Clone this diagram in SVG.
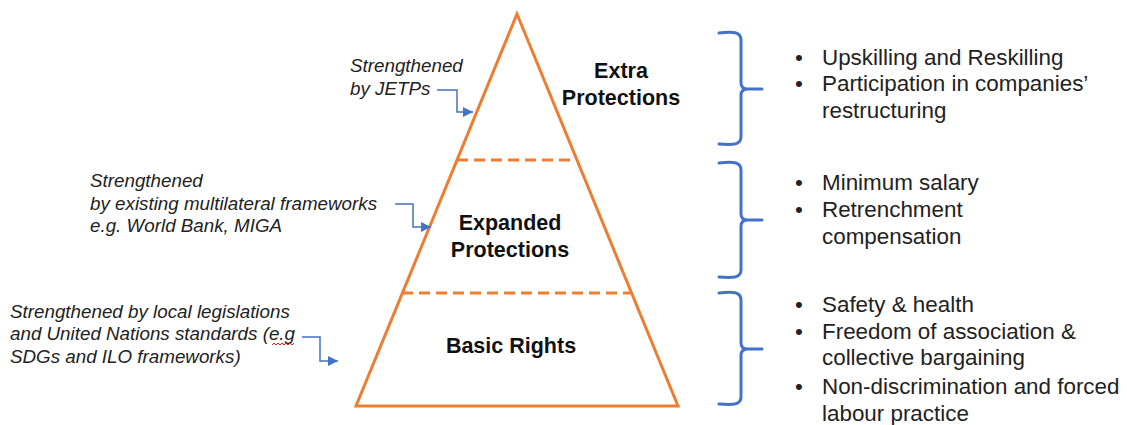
<svg xmlns="http://www.w3.org/2000/svg" width="1127" height="425" viewBox="0 0 1127 425">
  <style>
    .tier { fill: none; stroke: #ED7D31; stroke-width: 3; }
    .split { stroke: #ED7D31; stroke-width: 3; stroke-dasharray: 11 6; }
    .brace { fill: none; stroke: #4472C4; stroke-width: 3; stroke-linecap: round; stroke-linejoin: round; }
    .link { fill: none; stroke: #4472C4; stroke-width: 1.5; }
    .level { font-family: "Liberation Sans", Arial, sans-serif; font-weight: bold; font-size: 21.5px; fill: #111; text-anchor: middle; }
    .note { font-family: "Liberation Sans", Arial, sans-serif; font-style: italic; font-size: 18.8px; fill: #222; }
    .item { font-family: "Liberation Sans", Arial, sans-serif; font-size: 22.4px; fill: #222; }
  </style>
  <defs>
    <marker id="arrow" viewBox="0 0 10 10" refX="10" refY="5" markerWidth="7" markerHeight="7" markerUnits="strokeWidth" orient="auto">
      <path d="M0,0 L10,5 L0,10 z" fill="#4472C4"/>
    </marker>
  </defs>
  <rect width="1127" height="425" fill="#ffffff"/>

  <!-- pyramid -->
  <g id="pyramid">
    <polygon class="tier" points="517,14 678,406 356,406"/>
    <line class="split" x1="457" y1="160" x2="577" y2="160"/>
    <line class="split" x1="402" y1="293" x2="632" y2="293"/>
  </g>

  <g id="tier-extra">
    <text class="level" x="621" y="78">Extra</text>
    <text class="level" x="621" y="105">Protections</text>
  </g>
  <g id="tier-expanded">
    <text class="level" x="510" y="230">Expanded</text>
    <text class="level" x="510" y="257">Protections</text>
  </g>
  <g id="tier-basic">
    <text class="level" x="511" y="353">Basic Rights</text>
  </g>

  <!-- annotations on the left -->
  <g id="note-jetps">
    <text class="note" x="350" y="72">Strengthened</text>
    <text class="note" x="350" y="95">by JETPs</text>
  </g>
  <g id="note-multilateral">
    <text class="note" x="90" y="187">Strengthened</text>
    <text class="note" x="90" y="210">by existing multilateral frameworks</text>
    <text class="note" x="90" y="232">e.g. World Bank, MIGA</text>
  </g>
  <g id="note-local">
    <text class="note" x="10" y="318">Strengthened by local legislations</text>
    <text class="note" x="10" y="340">and United Nations standards (e.g</text>
    <text class="note" x="10" y="363">SDGs and ILO frameworks)</text>
    <path d="M272,345 l2,-2 l2,2 l2,-2 l2,2 l2,-2 l2,2 l2,-2 l2,2 l2,-2 l2,2 l2,-2" fill="none" stroke="#e02020" stroke-width="1"/>
  </g>

  <!-- connectors -->
  <g id="connectors">
    <path class="link" d="M437,90 L457,90 L457,112 L473,112" marker-end="url(#arrow)"/>
    <path class="link" d="M395,204 L413,204 L413,227 L431,227" marker-end="url(#arrow)"/>
    <path class="link" d="M302,337 L320,337 L320,361 L338,361" marker-end="url(#arrow)"/>
  </g>

  <!-- braces -->
  <g id="braces">
    <path class="brace" d="M719,33 C733,31 741,32 741,40 L741,83 Q741,89 748,89 L762,89 M748,89 Q741,89 741,95 L741,137 C741,145 733,145 719,144"/>
    <path class="brace" d="M719,163 C733,161 741,162 741,170 L741,214 Q741,220 748,220 L762,220 M748,220 Q741,220 741,226 L741,270 C741,278 733,278 719,277"/>
    <path class="brace" d="M719,293 C733,291 741,292 741,300 L741,343 Q741,349 748,349 L762,349 M748,349 Q741,349 741,355 L741,397 C741,405 733,405 719,404"/>
  </g>

  <!-- lists on the right -->
  <g id="list-extra">
    <text class="item" x="795" y="65">•</text>
    <text class="item" x="822" y="65">Upskilling and Reskilling</text>
    <text class="item" x="795" y="91">•</text>
    <text class="item" x="822" y="91">Participation in companies’</text>
    <text class="item" x="822" y="118">restructuring</text>
  </g>
  <g id="list-expanded">
    <text class="item" x="795" y="190">•</text>
    <text class="item" x="822" y="190">Minimum salary</text>
    <text class="item" x="795" y="217">•</text>
    <text class="item" x="822" y="217">Retrenchment</text>
    <text class="item" x="822" y="244">compensation</text>
  </g>
  <g id="list-basic">
    <text class="item" x="795" y="312">•</text>
    <text class="item" x="822" y="312">Safety &amp; health</text>
    <text class="item" x="795" y="339">•</text>
    <text class="item" x="822" y="339">Freedom of association &amp;</text>
    <text class="item" x="822" y="365">collective bargaining</text>
    <text class="item" x="795" y="394">•</text>
    <text class="item" x="822" y="394">Non-discrimination and forced</text>
    <text class="item" x="822" y="421">labour practice</text>
  </g>
</svg>
